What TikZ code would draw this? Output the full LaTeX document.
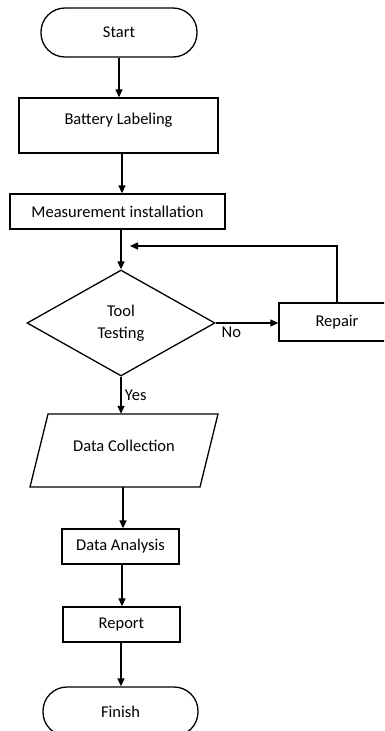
\documentclass[tikz,border=0pt]{standalone}
\usepackage{fontspec}
\setmainfont{Carlito}
\usepackage{tikz}
\usetikzlibrary{calc,arrows.meta,shapes.geometric}
\tikzset{
    every node/.style={font=\fontsize{16.5}{22}\selectfont},
    box/.style={draw,line width=1.3pt,minimum width=117pt,minimum height=35pt,inner sep=0pt},
    term/.style={draw,line width=1.3pt,minimum width=156pt,minimum height=49pt,rounded corners=24pt,inner sep=0pt},
    decide/.style={draw,line width=1.3pt,shape=diamond,minimum width=188pt,minimum height=106pt,inner sep=0pt,align=center},
    io/.style={minimum width=170pt,minimum height=73pt,inner sep=0pt},
    arrow/.style={line width=1.3pt,-{Triangle[length=8pt,width=7pt]}}
}

\begin{document}
\begin{tikzpicture}[x=1pt,y=-1pt]
        \useasboundingbox (0,0) rectangle (384,731);
        \clip (0,0) rectangle (384,731);

        \node[term] (start) at (119,32.5) {Start};
        \node[box,minimum width=199pt,minimum height=55pt,text depth=14pt] (label) at (118.5,125.5) {Battery Labeling};
        \node[box,minimum width=215pt] (measure) at (117.5,211.5) {Measurement installation};
        \node[decide] (test) at (121,323) {Tool\\Testing};
        \node[box,minimum width=116pt,minimum height=38pt] (repair) at (337,322) {Repair};
        \node[io,text depth=10pt] (collect) at (124,450.5) {Data Collection};
        \draw[line width=1.3pt] (collect.center) ++(-76,-36.5) -- ++(170,0) -- ++(-18,73) -- ++(-170,0) -- cycle;
        \node[box] (analysis) at (120.5,546.5) {Data Analysis};
        \node[box] (report) at (121.5,624.5) {Report};
        \node[term,minimum width=155pt] (finish) at (120.5,711.5) {Finish};
        \coordinate (loop) at (130,246);

        \draw[arrow] (start.south) -- (start.south |- label.north);
        \draw[arrow] (label.south -| 122,0) -- (measure.north -| 122,0);
        \draw[arrow] (measure.south -| test.north) -- (test.north);
        \draw[arrow] (test.east) -- (test.east -| repair.west) node[pos=0.25,below] {No};
        \draw[arrow] (repair.north) |- (loop);
        \draw[arrow] (test.south) -- (test.south |- collect.north) node[midway,right] {Yes};
        \draw[arrow] (collect.south -| 123,0) -- (analysis.north -| 123,0);
        \draw[arrow] (analysis.south -| 122,0) -- (report.north -| 122,0);
        \draw[arrow] (report.south -| 121,0) -- (finish.north -| 121,0);
    \end{tikzpicture}
\end{document}
